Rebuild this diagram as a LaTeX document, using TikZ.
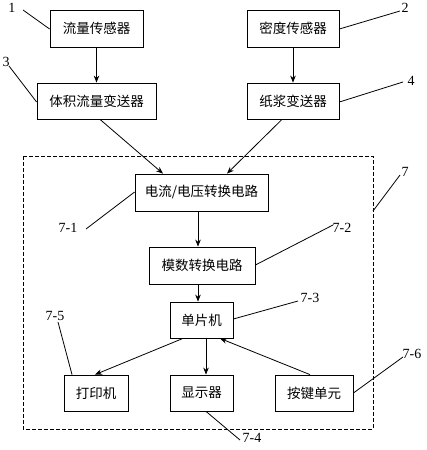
\documentclass[tikz,border=0pt]{standalone}
\usepackage{fontspec}
\setmainfont{Liberation Serif}
\newfontfamily\cjk{Noto Sans CJK SC}
\usetikzlibrary{arrows.meta}
\begin{document}
\begin{tikzpicture}[x=1pt,y=-1pt,
  blk/.style={draw,line width=0.8pt,inner sep=0pt,font=\cjk\fontsize{13.5}{15}\selectfont},
  arr/.style={line width=0.8pt,-{Stealth[length=7pt,width=5.5pt]}},
  ldr/.style={line width=0.8pt},
  num/.style={inner sep=0.5pt,font=\fontsize{14}{15}\selectfont}]
\useasboundingbox (0,0) rectangle (426,450);
% dashed frame
\draw[line width=0.8pt,dash pattern=on 4pt off 2pt] (23,156) rectangle (373,429);
\coordinate (fr) at (373,211);
% boxes
\node[blk,minimum width=93pt,minimum height=37pt] (b1) at (96.5,28.5) {流量传感器};
\node[blk,minimum width=119pt,minimum height=36pt] (b3) at (96.5,101) {体积流量变送器};
\node[blk,minimum width=92pt,minimum height=37pt] (b2) at (293,28.5) {密度传感器};
\node[blk,minimum width=92pt,minimum height=36pt] (b4) at (293,101) {纸浆变送器};
\node[blk,minimum width=133pt,minimum height=37pt] (c1) at (201.5,192.5) {电流/电压转换电路};
\node[blk,minimum width=106pt,minimum height=37pt] (c2) at (202,265.5) {模数转换电路};
\node[blk,minimum width=63pt,minimum height=36pt] (c3) at (201.5,320) {单片机};
\node[blk,minimum width=64pt,minimum height=36pt] (c5) at (96,393) {打印机};
\node[blk,minimum width=63pt,minimum height=36pt] (c4) at (201.5,393) {显示器};
\node[blk,minimum width=78pt,minimum height=36pt] (c6) at (314,393) {按键单元};
% arrows
\draw[arr] (b1.south) -- (b3.north);
\draw[arr] (b2.south) -- (b4.north);
\draw[arr] ([xshift=3.5pt]b3.south) -- ([xshift=-38.5pt]c1.north);
\draw[arr] ([xshift=-11pt]b4.south) -- ([xshift=25.5pt]c1.north);
\draw[arr] ([xshift=-3.5pt]c1.south) -- ([xshift=-4pt]c2.north);
\draw[arr] ([xshift=-4pt]c2.south) -- ([xshift=-3.5pt]c3.north);
\draw[arr] ([xshift=-18.5pt]c3.south) -- ([xshift=-1pt]c5.north);
\draw[arr] ([xshift=4.5pt]c3.south) -- ([xshift=4.5pt]c4.north);
\draw[arr] ([xshift=-4pt]c6.north) -- ([xshift=18.5pt]c3.south);
% labels
\node[num] (l1) at (12,8) {1};
\node[num] (l2) at (405,8) {2};
\node[num] (l3) at (6,62) {3};
\node[num] (l4) at (411,81) {4};
\node[num] (l7) at (405,172) {7};
\node[num] (l71) at (68,228) {7-1};
\node[num] (l72) at (342,228) {7-2};
\node[num] (l73) at (310,298) {7-3};
\node[num] (l74) at (252,438) {7-4};
\node[num] (l75) at (55,316) {7-5};
\node[num] (l76) at (412,354) {7-6};
% leaders
\draw[ldr] (23,10) -- ([yshift=-0.5pt]b1.west);
\draw[ldr] (9,66) -- ([yshift=-1pt]b3.west);
\draw[ldr] (400,11) -- ([yshift=-0.5pt]b2.east);
\draw[ldr] (403,82) -- ([yshift=-1pt]b4.east);
\draw[ldr] (400,175) -- (fr);
\draw[ldr] (86,229) -- ([yshift=0.5pt]c1.west);
\draw[ldr] (333,225) -- ([yshift=0.5pt]c2.east);
\draw[ldr] (298,301) -- ([yshift=1pt]c3.east);
\draw[ldr] (58,322) -- ([xshift=-24pt]c5.north);
\draw[ldr] (403,357) -- (c6.east);
\draw[ldr] (240,440) -- ([xshift=4.5pt]c4.south);
\end{tikzpicture}
\end{document}
